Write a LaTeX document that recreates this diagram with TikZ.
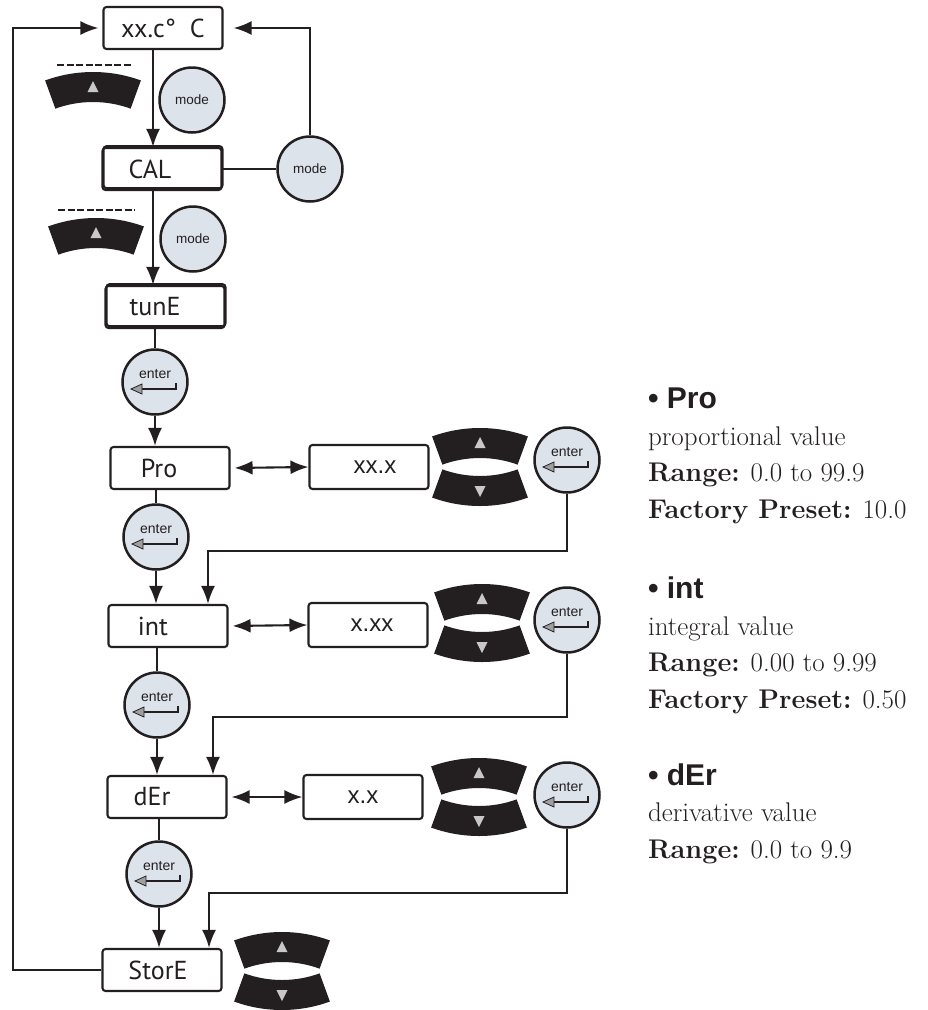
\documentclass[tikz,border=0pt]{standalone}
\usepackage{fontspec}
\usepackage{tikz}
\usetikzlibrary{arrows.meta,calc}
\newfontfamily\dispfont{PT Sans}
\newfontfamily\keyfont{Liberation Sans}
\definecolor{ink}{HTML}{231F20}
\definecolor{btnfill}{HTML}{DCE3EA}
\definecolor{trigray}{HTML}{C8C8C8}
\newcommand{\hdfont}{\keyfont\bfseries\fontsize{30}{30}\selectfont}
\newcommand{\upkey}[2]{\fill[ink](#1,#2+140)++(250:140)arc[start angle=250,end angle=290,radius=140]--($(#1,#2+140)+(290:110)$)arc[start angle=290,end angle=250,radius=110]--cycle;\fill[trigray](#1,#2+9)--(#1-5.5,#2+20)--(#1+5.5,#2+20)--cycle;}
\newcommand{\downkey}[2]{\fill[ink](#1,#2-140)++(110:140)arc[start angle=110,end angle=70,radius=140]--($(#1,#2-140)+(70:110)$)arc[start angle=70,end angle=110,radius=110]--cycle;\fill[trigray](#1,#2-9)--(#1-5.5,#2-20)--(#1+5.5,#2-20)--cycle;}
\newcommand{\keypair}[2]{\upkey{#1}{#2-39}\downkey{#1}{#2+39}}
\newcommand{\retarrow}[1]{\draw[line width=1.6pt]($(#1)+(21,1)$)--($(#1)+(21,7)$)--($(#1)+(-14,7)$);\filldraw[fill=gray!75,line width=.8pt]($(#1)+(-24,7)$)--($(#1)+(-13,2)$)--($(#1)+(-13,12)$)--cycle;}

\begin{document}
\begin{tikzpicture}[x=1pt,y=-1pt,line width=2.1pt,color=ink,
box/.style={draw,rounded corners=3pt,minimum width=119pt,minimum height=42pt,inner sep=0pt,font=\dispfont\fontsize{26}{26}\selectfont},
shbox/.style={box,preaction={draw,transform canvas={xshift=1pt,yshift=1.8pt}}},
valbox/.style={box,minimum height=44pt,font=\keyfont\fontsize{24}{24}\selectfont},
modebtn/.style={circle,draw,fill=btnfill,minimum size=65pt,inner sep=0pt,line width=2.5pt,font=\keyfont\fontsize{13.5}{13.5}\selectfont},
entbtn/.style={modebtn,font=\keyfont\fontsize{14}{14}\selectfont,text height=6pt,text depth=14pt},
arr/.style={-{Latex[length=18pt,width=14pt]}},
darr/.style={{Latex[length=18pt,width=14pt]}-{Latex[length=18pt,width=14pt]}},
desc/.style={anchor=base west,align=left,inner sep=0pt,font=\fontsize{27}{36.5}\selectfont}]
\useasboundingbox(0,0)rectangle(927,1010);
\node[box](xxc)at(163,28){xx.c°\hspace{14pt}C};
\node[shbox](cal)at(162,169){CAL\hspace*{24pt}};
\node[shbox](tune)at(165,307){tunE\hspace*{20pt}};
\node[box](pro)at(170,468){Pro\hspace*{22pt}};
\node[box](int)at(168,626){int\hspace*{30pt}};
\node[box](der)at(167,797){dEr\hspace*{30pt}};
\node[box](store)at(162,970){StorE\hspace*{8pt}};
\node[valbox](xxx)at(369,467){\hspace*{12pt}xx.x};\node[valbox](xxxx)at(368,625){\hspace*{8pt}x.xx};\node[valbox](xx)at(363,797){x.x};
\node[modebtn](mode1)at(192,100){mode};\node[modebtn](mode2)at(310,169){mode};\node[modebtn](mode3)at(193,239){mode};
\node[entbtn](ent1)at(155,382){enter};\node[entbtn](ent2)at(156,537){enter};\node[entbtn](ent3)at(157,705){enter};\node[entbtn](ent4)at(159,874){enter};
\node[entbtn](entr1)at(567,460){enter};\node[entbtn](entr2)at(567,620){enter};\node[entbtn](entr3)at(567,795){enter};
\foreach\b in{ent1,ent2,ent3,ent4,entr1,entr2,entr3}{\retarrow{\b}}
\upkey{93}{72}\upkey{96}{218}\keypair{480}{467}\keypair{482}{623}\keypair{479}{797}\keypair{282}{971}
\draw[dash pattern=on 7pt off 2.5pt,line width=1.7pt](57,65)--(133,65);\draw[dash pattern=on 7pt off 2.5pt,line width=1.7pt](58,210)--(135,210);
\draw[arr,shorten >=4pt](store.west)--++(-88.5,0)|-(xxc.west);
\draw[arr]($(xxc.south)-(10,0)$)--($(cal.north)-(9,0)$);\draw[arr]($(cal.south)-(9,0)$)--($(tune.north)-(12,0)$);
\draw(cal.east)--(mode2);\draw[arr,shorten >=10pt](mode2.north)|-(xxc.east);
\draw(ent1|-tune.south)--(ent1);\draw[arr](ent1)--(ent1|-pro.north);
\draw(ent2|-pro.south)--(ent2);\draw[arr](ent2)--(ent2|-int.north);
\draw(ent3|-int.south)--(ent3);\draw[arr](ent3)--(ent3|-der.north);
\draw(ent4|-der.south)--(ent4);\draw[arr](ent4)--(ent4|-store.north);
\draw[darr,shorten <=4pt](pro.east)--(xxx.west);\draw[darr,shorten <=4pt](int.east)--(xxxx.west);\draw[darr,shorten <=4pt](der.east)--(xx.west);
\draw[arr](entr1)--++(0,91)-|($(int.north)+(40,0)$);
\draw[arr](entr2)--++(0,97)-|($(der.north)+(46,0)$);
\draw[arr](entr3)--++(0,98)-|($(store.north)+(47,0)$);
\node[desc](dpro)at(647,518){{\hdfont• Pro}\\proportional value\\\textbf{Range:} 0.0 to 99.9\\\textbf{Factory Preset:} 10.0};
\node[desc](dint)at(647,708){{\hdfont• int}\\integral value\\\textbf{Range:} 0.00 to 9.99\\\textbf{Factory Preset:} 0.50};
\node[desc](dder)at(647,858){{\hdfont• dEr}\\derivative value\\\textbf{Range:} 0.0 to 9.9};
\end{tikzpicture}
\end{document}
